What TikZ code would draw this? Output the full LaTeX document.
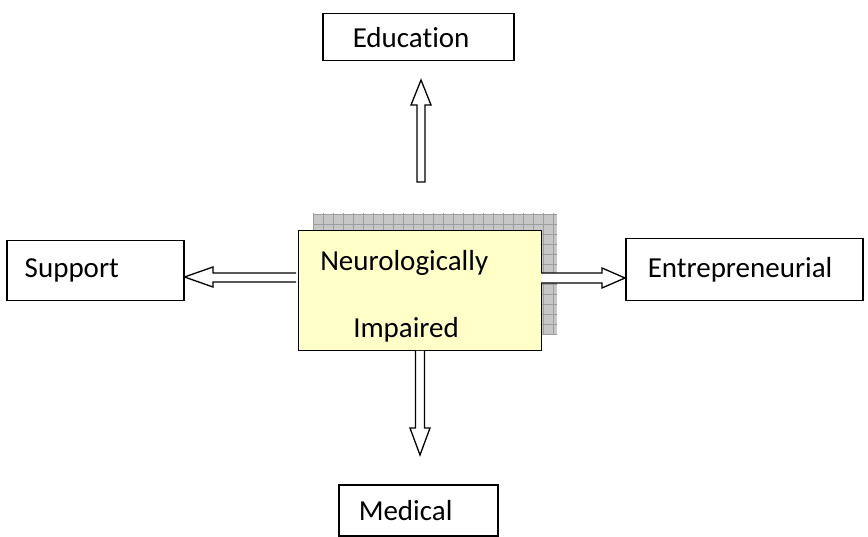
\documentclass[tikz,border=0pt]{standalone}
\usepackage{fontspec}
\setmainfont{Carlito}[Ligatures=NoCommon]
\begin{document}
\begin{tikzpicture}[x=1pt,y=-1pt,
  box/.style={draw=black, line width=1.5pt, rectangle, inner sep=0pt, font=\fontsize{29}{34}\selectfont, align=left, anchor=north west},
  arr/.style={draw=black, line width=1.3pt, fill=white, line join=miter}]
\useasboundingbox (0,0) rectangle (868,537);
% shadow with grid
\begin{scope}
\clip (313,214) rectangle (557,335);
\fill[black!22] (313,214) rectangle (557,335);
\foreach \i in {0,...,25} {\draw[black!38, line width=0.8pt] (313+10*\i,210) -- (313+10*\i,340);}
\foreach \j in {0,...,13} {\draw[black!38, line width=0.8pt] (310,214+10*\j) -- (560,214+10*\j);}
\end{scope}
% nodes
\node[box, fill={rgb,255:red,255;green,255;blue,200}, minimum width=243, minimum height=120, text width=243-22, inner xsep=11] (nc) at (297.5,230)
  {\rule{0pt}{31pt}\hspace*{11pt}Neurologically\\[33pt]\hspace*{44pt}Impaired};
\node[box, minimum width=191, minimum height=47, text width=191-30] (edu) at (322,13) {\hspace*{15pt}Education};
\node[box, minimum width=177, minimum height=60, text width=177-18] (sup) at (6,240) {\hspace*{9pt}Support};
\node[box, minimum width=237, minimum height=62, text width=237-22] (ent) at (625,238) {\hspace*{11pt}Entrepreneurial};
\node[box, minimum width=159, minimum height=51, text width=159-20] (med) at (338,484) {\hspace*{10pt}Medical};
% connectors (block arrows)
\coordinate (upTip) at (421,80);
\draw[arr] (417,182) -- (417,105) -- (411,105) -- (upTip) -- (431,105) -- (425,105) -- (425,182) -- cycle;
\coordinate (dnTip) at (420,455);
\draw[arr] (415.5,351) -- (415.5,428) -- (410,428) -- (dnTip) -- (430,428) -- (424.5,428) -- (424.5,351);
\draw[arr] (296,273) -- (213,273) -- (213,267) -- (sup.east |- 0,277) -- (213,287) -- (213,282) -- (296,282);
\draw[arr] (541,273) -- (602,273) -- (602,268) -- (ent.west |- 0,278) -- (602,288) -- (602,283) -- (541,283);
\end{tikzpicture}
\end{document}
